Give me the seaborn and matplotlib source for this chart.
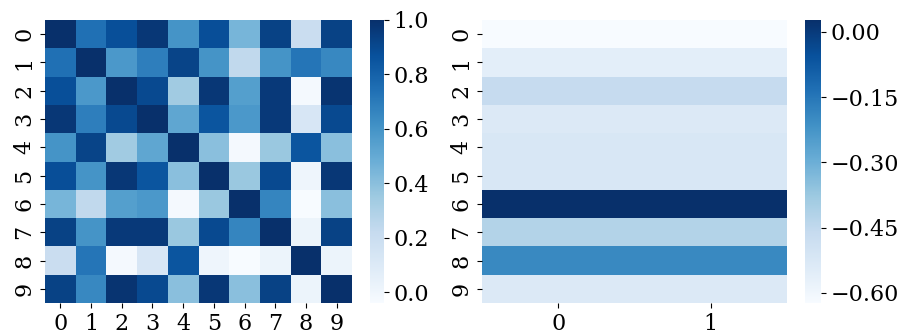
import numpy as np
import pandas as pd
import matplotlib
matplotlib.use("Agg")
import matplotlib.pyplot as plt
import seaborn as sns

# ---- data ----
labels = [str(i) for i in range(10)]
corr_rows = [
    [1.00, 0.74, 0.875, 0.97, 0.60, 0.88, 0.45, 0.93, 0.20, 0.93],
    [0.74, 1.00, 0.58, 0.69, 0.92, 0.60, 0.24, 0.60, 0.72, 0.65],
    [0.875, 0.58, 1.00, 0.90, 0.34, 0.97, 0.55, 0.96, -0.02, 0.98],
    [0.97, 0.69, 0.90, 1.00, 0.52, 0.85, 0.58, 0.96, 0.13, 0.90],
    [0.60, 0.92, 0.34, 0.52, 1.00, 0.40, -0.02, 0.36, 0.85, 0.40],
    [0.88, 0.60, 0.97, 0.85, 0.40, 1.00, 0.36, 0.90, 0.01, 0.97],
    [0.45, 0.24, 0.55, 0.58, -0.02, 0.36, 1.00, 0.66, -0.04, 0.40],
    [0.93, 0.60, 0.96, 0.96, 0.36, 0.90, 0.66, 1.00, 0.02, 0.93],
    [0.20, 0.72, -0.02, 0.13, 0.85, 0.01, -0.04, 0.02, 1.00, 0.02],
    [0.93, 0.65, 0.98, 0.90, 0.40, 0.97, 0.40, 0.93, 0.02, 1.00],
]
right_col0 = [-0.623, -0.558, -0.46, -0.532, -0.519, -0.519, 0.027, -0.42, -0.194, -0.532]
right_col1 = [-0.623, -0.558, -0.46, -0.532, -0.519, -0.519, 0.027, -0.42, -0.194, -0.532]
right_labels = ["0", "1"]
left_cbar_ticks = [0.0, 0.2, 0.4, 0.6, 0.8, 1.0]
right_cbar_ticks = [0.00, -0.15, -0.30, -0.45, -0.60]

corr_df = pd.DataFrame(corr_rows, index=labels, columns=labels)
right_df = pd.DataFrame({right_labels[0]: right_col0, right_labels[1]: right_col1}, index=labels)

plt.rcParams["font.family"] = ["DejaVu Serif"]
plt.rcParams["font.size"] = 16

W, H = 903, 332
fig = plt.figure(figsize=(W / 100, H / 100), dpi=100)

def box(x0, x1, y0, y1):
    return [x0 / W, (H - y1) / H, (x1 - x0) / W, (y1 - y0) / H]

ax1 = fig.add_axes(box(45, 352, 20, 303))
cax1 = fig.add_axes(box(370, 384, 20, 303))
ax2 = fig.add_axes(box(482, 787, 20, 303))
cax2 = fig.add_axes(box(805, 821, 20, 303))

sns.heatmap(corr_df, ax=ax1, cbar_ax=cax1, cmap="Blues",
            cbar_kws={"ticks": left_cbar_ticks})
sns.heatmap(right_df, ax=ax2, cbar_ax=cax2, cmap="Blues",
            cbar_kws={"ticks": right_cbar_ticks})

cax1.set_yticklabels([f"{t:.1f}" for t in left_cbar_ticks])
cax2.set_yticklabels([f"{t:.2f}".replace("-", "\u2212") for t in right_cbar_ticks])

for ax in (ax1, ax2):
    ax.tick_params(axis="both", labelsize=16, length=3.5, width=0.8)
    for lab in ax.get_yticklabels():
        lab.set_rotation(90)
        lab.set_va("center")
    for lab in ax.get_xticklabels():
        lab.set_rotation(0)
for cax in (cax1, cax2):
    cax.tick_params(labelsize=16, length=3.5, width=0.8)

fig.savefig("out.png", dpi=100)
